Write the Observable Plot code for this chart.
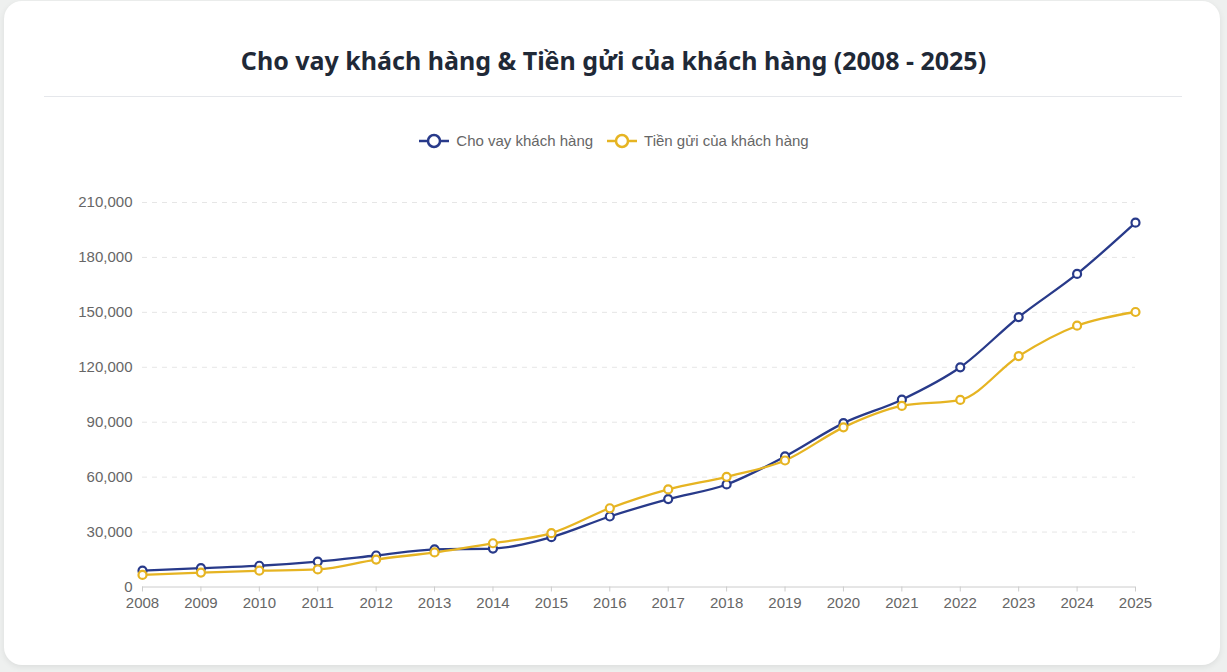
<!DOCTYPE html>
<html>
<head>
<meta charset="utf-8">
<script src="https://cdn.jsdelivr.net/npm/d3@7"></script>
<script src="https://cdn.jsdelivr.net/npm/@observablehq/plot@0.6"></script>
<style>
  html, body { margin: 0; padding: 0; width: 1227px; height: 672px; background: #eef0ef; overflow: hidden; }
  #card { position: absolute; left: 4px; top: 1px; width: 1216px; height: 664px; background: #fff; border-radius: 18px; box-shadow: 0 2px 6px rgba(0,0,0,0.08); }
  #title { position: absolute; left: 0; top: 42px; width: 1227px; text-align: center; font-family: "Noto Sans", sans-serif; font-weight: 700; font-size: 25px; color: #1f2937; line-height: 36px; }
  #divider { position: absolute; left: 44px; top: 96px; width: 1138px; height: 1px; background: #e5e7eb; }
  #legend { position: absolute; left: 0; top: 131px; width: 1227px; display: flex; justify-content: center; gap: 13px; font-family: "Liberation Sans", Arial, sans-serif; font-size: 15px; color: #666; line-height: 20px; }
  .item { display: flex; align-items: center; gap: 6px; }
  #chart { position: absolute; left: 0; top: 170px; }
</style>
</head>
<body>
<div id="card"></div>
<div id="title">Cho vay khách hàng &amp; Tiền gửi của khách hàng (2008 - 2025)</div>
<div id="divider"></div>
<div id="legend"></div>
<div id="chart"></div>
<script>
const years = [2008,2009,2010,2011,2012,2013,2014,2015,2016,2017,2018,2019,2020,2021,2022,2023,2024,2025];
const loans = [8900,10300,11600,13900,17200,20500,21000,27200,38500,48000,56000,71300,89500,102300,120000,147400,171000,199000];
const deposits = [6600,7900,8900,9600,15000,18900,23900,29400,43000,53300,60200,69100,87200,98900,102200,126100,142700,150200];
const seriesNames = ["Cho vay khách hàng", "Tiền gửi của khách hàng"];
const colors = ["#283a8a", "#e6b422"];
const yTicks = [0,30000,60000,90000,120000,150000,180000,210000];

const data = [];
years.forEach((y, i) => {
  data.push({year: y, value: loans[i], series: seriesNames[0]});
  data.push({year: y, value: deposits[i], series: seriesNames[1]});
});

// legend
const legend = document.getElementById("legend");
seriesNames.forEach((name, i) => {
  const item = document.createElement("div");
  item.className = "item";
  item.innerHTML = `<svg width="32" height="16"><line x1="1" y1="8" x2="31" y2="8" stroke="${colors[i]}" stroke-width="2.5"/><circle cx="16" cy="8" r="6" fill="#fff" stroke="${colors[i]}" stroke-width="2.5"/></svg><span>${name}</span>`;
  legend.appendChild(item);
});

const fmt = d3.format(",");
const chart = Plot.plot({
  width: 1227,
  height: 450,
  marginLeft: 142,
  marginRight: 92,
  marginTop: 32,
  marginBottom: 33.5,
  style: { fontFamily: "'Liberation Sans', Arial, sans-serif", fontSize: "15px", color: "#666", background: "transparent" },
  x: { domain: [2008, 2025], label: null },
  y: { domain: [0, 210000], label: null },
  color: { domain: seriesNames, range: colors },
  marks: [
    Plot.gridY(yTicks.filter(d => d > 0), { stroke: "#e6e6e6", strokeOpacity: 1, strokeDasharray: "5,5" }),
    Plot.ruleY([0], { stroke: "#cccccc" }),
    Plot.axisX(years, { tickSize: 5, tickPadding: 5.5, stroke: "#cccccc", tickFormat: d => String(d), fill: "#666", fontSize: 15 }),
    Plot.axisY(yTicks, { tickSize: 0, tickPadding: 10, tickFormat: fmt, fill: "#666", fontSize: 15 }),
    Plot.line(data, { x: "year", y: "value", stroke: "series", strokeWidth: 2.3, curve: "monotone-x" }),
    Plot.dot(data, { x: "year", y: "value", stroke: "series", fill: "#fff", r: 4, strokeWidth: 2.2 })
  ]
});
document.getElementById("chart").appendChild(chart);
</script>
</body>
</html>
